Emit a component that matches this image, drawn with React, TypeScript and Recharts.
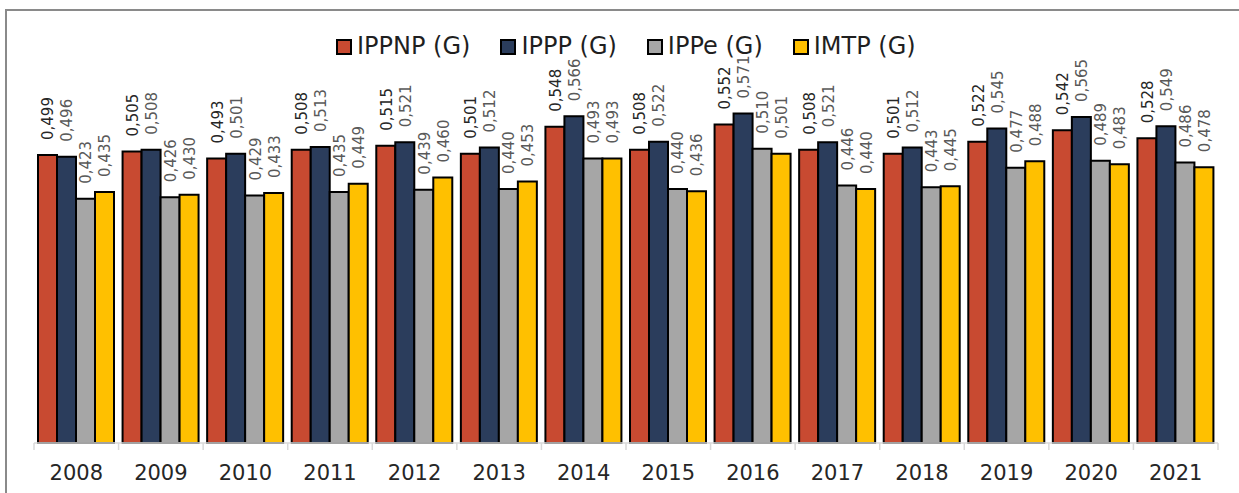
import React from 'react';
import { BarChart, Bar, XAxis, YAxis, LabelList } from 'recharts';

const years = ['2008','2009','2010','2011','2012','2013','2014','2015','2016','2017','2018','2019','2020','2021'];
const ippnp = [0.499,0.505,0.493,0.508,0.515,0.501,0.548,0.508,0.552,0.508,0.501,0.522,0.542,0.528];
const ippp = [0.496,0.508,0.501,0.513,0.521,0.512,0.566,0.522,0.571,0.521,0.512,0.545,0.565,0.549];
const ippe = [0.423,0.426,0.429,0.435,0.439,0.440,0.493,0.440,0.510,0.446,0.443,0.477,0.489,0.486];
const imtp = [0.435,0.430,0.433,0.449,0.460,0.453,0.493,0.436,0.501,0.440,0.445,0.488,0.483,0.478];

const seriesNames = ['IPPNP (G)', 'IPPP (G)', 'IPPe (G)', 'IMTP (G)'];
const seriesKeys = ['ippnp', 'ippp', 'ippe', 'imtp'];
const seriesColors = ['#C84A31', '#2B3D5C', '#A6A6A6', '#FFC000'];
const labelColors = ['#262626', '#595959', '#595959', '#595959'];

const data = years.map((y, i) => ({
  year: y,
  ippnp: ippnp[i],
  ippp: ippp[i],
  ippe: ippe[i],
  imtp: imtp[i],
}));

const W = 1239;
const H = 493;
const M = { top: 39, right: 21, left: 34, bottom: 10 };
const STEP = (W - M.left - M.right) / years.length;
const FONT = '"DejaVu Sans", Verdana, sans-serif';

const makeLabel = (color: string) => (props: any) => {
  const { x, y, width, value } = props;
  const cx = Number(x) + Number(width) / 2 + 1;
  const ty = Number(y) - 15;
  return (
    <text
      x={cx}
      y={ty}
      transform={`rotate(-90, ${cx}, ${ty})`}
      textAnchor="start"
      dominantBaseline="central"
      fill={color}
      fontSize={15}
      fontFamily={FONT}
    >
      {Number(value).toFixed(3).replace('.', ',')}
    </text>
  );
};

const Tick = (props: any) => {
  const { x, y, payload, index } = props;
  const left = x - STEP / 2;
  const right = x + STEP / 2;
  return (
    <g>
      <line x1={left} y1={y - 8} x2={left} y2={y - 1} stroke="#D9D9D9" strokeWidth={1.5} />
      {index === years.length - 1 && (
        <line x1={right} y1={y - 8} x2={right} y2={y - 1} stroke="#D9D9D9" strokeWidth={1.5} />
      )}
      <text x={x} y={y + 29} textAnchor="middle" fill="#262626" fontSize={21} fontFamily={FONT}>
        {payload.value}
      </text>
    </g>
  );
};

export default function App() {
  return (
    <div style={{ position: 'absolute', left: 0, top: 0, width: W, height: H, overflow: 'hidden', background: '#fff' }}>
      <div
        style={{
          position: 'absolute',
          left: 5,
          top: 9,
          width: W + 20,
          height: H + 20,
          borderTop: '2px solid #8A8A8A',
          borderLeft: '2px solid #8A8A8A',
          boxSizing: 'border-box',
        }}
      />
      <div
        style={{
          position: 'absolute',
          left: 336,
          top: 32,
          display: 'flex',
          alignItems: 'center',
          fontFamily: FONT,
          fontSize: 24,
          color: '#1F1F1F',
          whiteSpace: 'nowrap',
          lineHeight: '29px',
        }}
      >
        {seriesNames.map((n, i) => (
          <div key={n} style={{ display: 'flex', alignItems: 'center', marginRight: 30 }}>
            <span
              style={{
                display: 'inline-block',
                width: 12,
                height: 12,
                background: seriesColors[i],
                border: '2px solid #000',
                marginRight: 5,
              }}
            />
            <span>{n}</span>
          </div>
        ))}
      </div>
      <div style={{ position: 'absolute', left: 0, top: 0 }}>
        <BarChart width={W} height={H} data={data} margin={M} barGap={0} barCategoryGap={4}>
          <XAxis
            dataKey="year"
            height={40}
            axisLine={{ stroke: '#D9D9D9', strokeWidth: 1.5 }}
            tickLine={false}
            tick={<Tick />}
            interval={0}
          />
          <YAxis hide domain={[0, 0.7]} />
          {seriesKeys.map((k, i) => (
            <Bar
              key={k}
              dataKey={k}
              name={seriesNames[i]}
              fill={seriesColors[i]}
              stroke="#000"
              strokeWidth={2}
              isAnimationActive={false}
            >
              <LabelList dataKey={k} content={makeLabel(labelColors[i])} />
            </Bar>
          ))}
        </BarChart>
      </div>
    </div>
  );
}
